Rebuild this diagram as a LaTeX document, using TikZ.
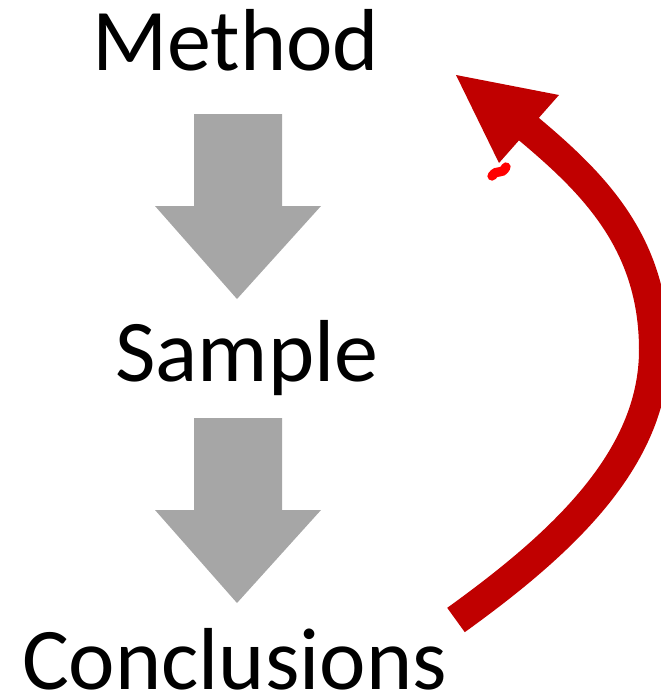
\documentclass[tikz,border=0pt]{standalone}
\usepackage{fontspec}
\setmainfont{Carlito}
\usepackage{xcolor}
\usetikzlibrary{positioning,calc}
\definecolor{blockgray}{HTML}{A6A6A6}
\definecolor{loopred}{HTML}{C00000}

\begin{document}
\begin{tikzpicture}[x=0.75pt,y=-0.75pt,
    stage/.style={font=\fontsize{66}{66}\selectfont, anchor=base, inner sep=0pt},
    blockarrow/.style={fill=blockgray, draw=none}]
    \useasboundingbox (0,0) rectangle (661,697);

    % Stages
    \node[stage] (method) at (235.5,70) {Method};
    \node[stage] (sample) at (247,381) {Sample};
    \node[stage] (concl) at (234.5,689) {Conclusions};

    % Down arrows between stages
    \foreach \dy in {0,304}
        \fill[blockarrow] (194,114+\dy) -- (282,114+\dy) -- (282,206+\dy) -- (321,206+\dy)
            -- (237,299+\dy) -- (155,206+\dy) -- (194,206+\dy) -- cycle;

    % Feedback loop back to Method
    \coordinate (loopstart) at (456,620);
    \coordinate (loopbase) at (524,125);
    \draw[loopred, line width=22.5pt] (loopstart) .. controls (560,545) and (654,460) .. (654,350)
        .. controls (654,240) and (590,180) .. (loopbase);
    \fill[loopred] (559,95) -- (456,75) -- (499,163) -- cycle;

    % Stray mark
    \draw[red, line width=7pt, line cap=round] (492,176) .. controls (498,168) and (501,176) .. (506,167);
\end{tikzpicture}
\end{document}
